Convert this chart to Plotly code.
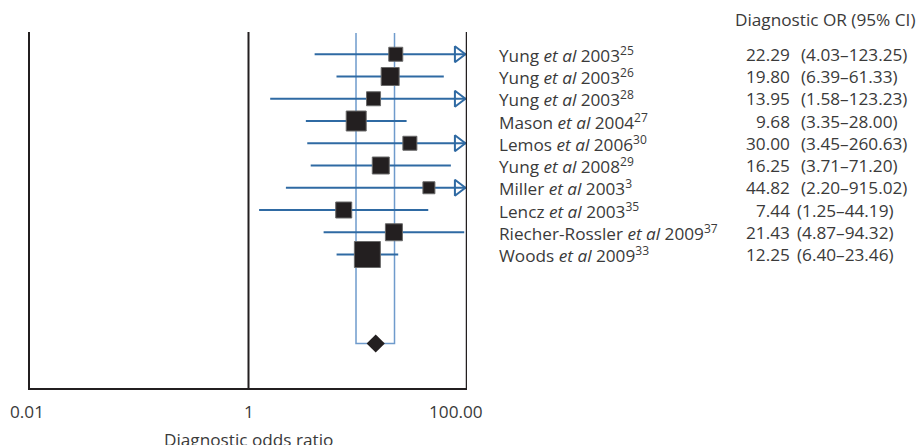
import math
import plotly.graph_objects as go

# ---------------- data ----------------
studies = ["Yung <i>et al</i> 2003<sup>25</sup>",
           "Yung <i>et al</i> 2003<sup>26</sup>",
           "Yung <i>et al</i> 2003<sup>28</sup>",
           "Mason <i>et al</i> 2004<sup>27</sup>",
           "Lemos <i>et al</i> 2006<sup>30</sup>",
           "Yung <i>et al</i> 2008<sup>29</sup>",
           "Miller <i>et al</i> 2003<sup>3</sup>",
           "Lencz <i>et al</i> 2003<sup>35</sup>",
           "Riecher-Rossler <i>et al</i> 2009<sup>37</sup>",
           "Woods <i>et al</i> 2009<sup>33</sup>"]
odds_ratio = [22.29, 19.80, 13.95, 9.68, 30.00, 16.25, 44.82, 7.44, 21.43, 12.25]
ci_low = [4.03, 6.39, 1.58, 3.35, 3.45, 3.71, 2.20, 1.25, 4.87, 6.40]
ci_high = [123.25, 61.33, 123.23, 28.00, 260.63, 71.20, 915.02, 44.19, 94.32, 23.46]
or_text = ["22.29", "19.80", "13.95", "9.68", "30.00", "16.25", "44.82", "7.44", "21.43", "12.25"]
ci_text = ["(4.03–123.25)", "(6.39–61.33)", "(1.58–123.23)", "(3.35–28.00)", "(3.45–260.63)",
           "(3.71–71.20)", "(2.20–915.02)", "(1.25–44.19)", "(4.87–94.32)", "(6.40–23.46)"]
study_weight = [14, 18, 14, 20, 14, 17, 12, 16, 17, 26]   # marker size ~ study weight
pooled_or = 14.6
pooled_low = 9.64
pooled_high = 21.7
tick_vals = [0.01, 1, 100]
tick_text = ["0.01", "1", "100.00"]
x_title = "Diagnostic odds ratio"
col_header = "Diagnostic OR (95% CI)"

# ---------------- layout constants (page pixels; body margin removed) ----------------
W, H = 920, 445
L, R_EDGE, T, B_EDGE = 30, 466.7, 32, 388
XMIN, XMAX = -2, 2
px_per_dec = (R_EDGE - L) / (XMAX - XMIN)
FONT = "Open Sans"
FS = 17.2
TXT = "#3a3a3a"
BLACK = "#231f20"
CI_BLUE = "#2f6aa3"
BOX_BLUE = "#6f9bcc"
rows = list(range(1, len(studies) + 1))
pooled_row = 14
tick_label_shift = [-3.5, 0, -11]


def px_to_paper(px):
    return (px - L) / (R_EDGE - L)


def py_to_paper(py):
    return (B_EDGE - py) / (B_EDGE - T)


fig = go.Figure()

# pooled CI box (vertical lines + bottom link)
fig.add_trace(go.Scatter(x=[pooled_low, pooled_low, pooled_high, pooled_high],
                         y=[0.05, pooled_row, pooled_row, 0.05], mode="lines",
                         line=dict(color=BOX_BLUE, width=1.5), hoverinfo="skip"))

# CI lines
xs, ys = [], []
for lo, hi, r in zip(ci_low, ci_high, rows):
    xs += [lo, min(hi, 10 ** XMAX), None]
    ys += [r, r, None]
fig.add_trace(go.Scatter(x=xs, y=ys, mode="lines", line=dict(color=CI_BLUE, width=2),
                         hoverinfo="skip"))

# arrows for truncated CIs
arrow_size = 14
arrow_shift = (arrow_size / 2) * 2 / math.sqrt(3) + 0.5
ax_, ay_ = [], []
for hi, r in zip(ci_high, rows):
    if hi > 10 ** XMAX:
        ax_.append(10 ** (XMAX - arrow_shift / px_per_dec))
        ay_.append(r)
fig.add_trace(go.Scatter(x=ax_, y=ay_, mode="markers",
                         marker=dict(symbol="triangle-right-open", size=arrow_size, opacity=1,
                                     color=CI_BLUE, line=dict(width=2, color=CI_BLUE)),
                         hoverinfo="skip"))

# study squares
fig.add_trace(go.Scatter(x=odds_ratio, y=rows, mode="markers",
                         marker=dict(symbol="square", size=study_weight, color=BLACK, opacity=1,
                                     line=dict(color="#6a6a6a", width=1)),
                         hoverinfo="skip"))

# pooled diamond
fig.add_trace(go.Scatter(x=[pooled_or], y=[pooled_row], mode="markers",
                         marker=dict(symbol="diamond", size=14, color=BLACK, opacity=1,
                                     line=dict(color=BLACK, width=0)),
                         hoverinfo="skip"))

shapes = [
    dict(type="line", xref="x", yref="y", x0=1, x1=1, y0=0, y1=16,
         line=dict(color=BLACK, width=2)),
    dict(type="line", xref="x", yref="y", x0=100, x1=100, y0=0, y1=16,
         line=dict(color=BLACK, width=2.5)),
]

annotations = []
lab_x = px_to_paper(497)
or_x = px_to_paper(791)
for i, r in enumerate(rows):
    annotations.append(dict(x=lab_x, y=r, xref="paper", yref="y", text=studies[i],
                            showarrow=False, xanchor="left", yanchor="middle",
                            font=dict(family=FONT, size=FS, color=TXT)))
    annotations.append(dict(x=or_x, y=r, xref="paper", yref="y", text=or_text[i],
                            showarrow=False, xanchor="right", yanchor="middle",
                            font=dict(family=FONT, size=FS, color=TXT)))
    ci_px = 798 if i < 7 else 794
    annotations.append(dict(x=px_to_paper(ci_px), y=r, xref="paper", yref="y", text=ci_text[i],
                            showarrow=False, xanchor="left", yanchor="middle",
                            font=dict(family=FONT, size=FS, color=TXT)))
# x tick labels (placed slightly left of their ticks as in the source)
for tv, tt, sh in zip(tick_vals, tick_text, tick_label_shift):
    annotations.append(dict(x=math.log10(tv), y=py_to_paper(411), xref="x", yref="paper",
                            text=tt, showarrow=False, xanchor="center", yanchor="middle",
                            xshift=sh, font=dict(family=FONT, size=FS, color=TXT)))
annotations.append(dict(x=px_to_paper(916), y=py_to_paper(19), xref="paper", yref="paper",
                        text=col_header, showarrow=False, xanchor="right", yanchor="middle",
                        font=dict(family=FONT, size=FS, color=TXT)))
annotations.append(dict(x=px_to_paper(248), y=py_to_paper(439.5), xref="paper",
                        yref="paper", text=x_title, showarrow=False, xanchor="center",
                        yanchor="middle", font=dict(family=FONT, size=FS, color=TXT)))

fig.update_layout(
    width=W, height=H,
    margin=dict(l=L, r=W - R_EDGE, t=T, b=H - B_EDGE, pad=0),
    paper_bgcolor="white", plot_bgcolor="white",
    showlegend=False,
    xaxis=dict(type="log", range=[XMIN, XMAX], tickvals=tick_vals, showticklabels=False,
               showgrid=False, zeroline=False, showline=True, linecolor=BLACK, linewidth=2,
               ticks=""),
    yaxis=dict(range=[16, 0], showgrid=False, zeroline=False, showticklabels=False,
               showline=True, linecolor=BLACK, linewidth=2, ticks=""),
    shapes=shapes,
    annotations=annotations,
)

fig.write_html("out.html", config={"displayModeBar": False},
               post_script="document.body.style.margin='0';")
